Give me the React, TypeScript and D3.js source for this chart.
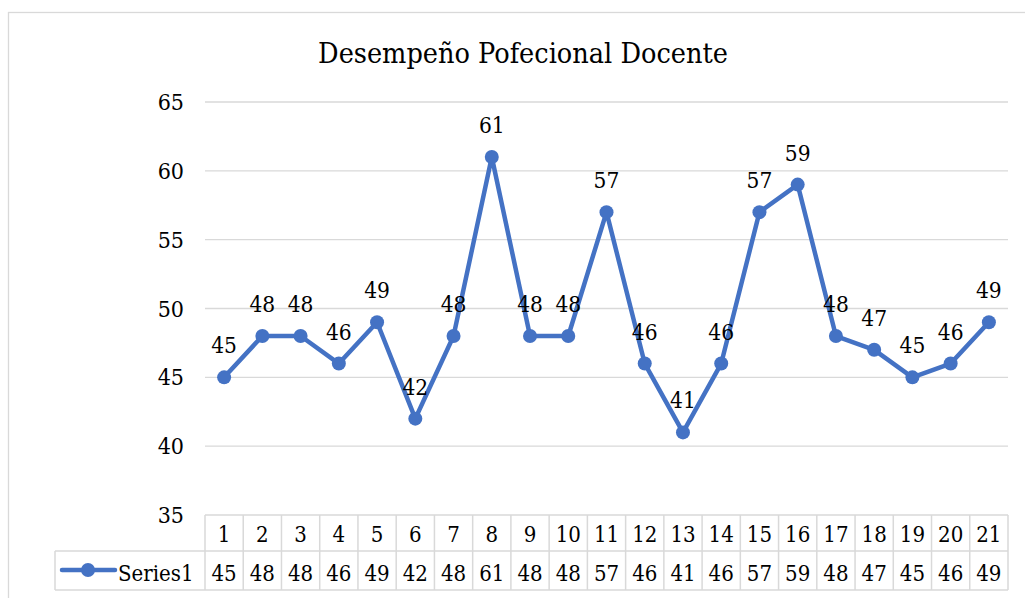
import React, { useEffect, useRef } from 'react';
import * as d3 from 'd3';

const title = 'Desempeño Pofecional Docente';
const seriesName = 'Series1';
const categories = ['1', '2', '3', '4', '5', '6', '7', '8', '9', '10', '11', '12', '13', '14', '15', '16', '17', '18', '19', '20', '21'];
const values = [45, 48, 48, 46, 49, 42, 48, 61, 48, 48, 57, 46, 41, 46, 57, 59, 48, 47, 45, 46, 49];
const yTicks = [35, 40, 45, 50, 55, 60, 65];

const FONT = "'DejaVu Serif Condensed', 'DejaVu Serif'";

const App = () => {
  const svgRef = useRef<SVGSVGElement>(null);

  useEffect(() => {
    const W = 1025;
    const H = 598;
    const blue = '#4472C4';
    const grid = '#d9d9d9';

    const svg = d3.select(svgRef.current)
      .attr('width', W)
      .attr('height', H);
    svg.selectAll('*').remove();

    // chart frame
    svg.append('rect')
      .attr('x', 8.5).attr('y', 12.5)
      .attr('width', W + 10).attr('height', H + 10)
      .attr('fill', '#fff')
      .attr('stroke', grid)
      .attr('stroke-width', 1.3);

    const x = d3.scaleBand().domain(categories).range([205, 1008]);
    const y = d3.scaleLinear().domain([35, 65]).range([515, 102]);
    const cx = (i: number) => (x(categories[i]) as number) + x.bandwidth() / 2;

    // title
    svg.append('text')
      .attr('x', 523).attr('y', 63)
      .attr('text-anchor', 'middle')
      .style('font-family', FONT)
      .attr('font-size', 28.5)
      .attr('fill', '#000')
      .text(title);

    // gridlines
    svg.selectAll('.grid')
      .data(yTicks.filter(d => d !== 35))
      .enter().append('line')
      .attr('x1', 205).attr('x2', 1008)
      .attr('y1', d => y(d)).attr('y2', d => y(d))
      .attr('stroke', grid).attr('stroke-width', 1.3);

    // y tick labels
    svg.selectAll('.ytick')
      .data(yTicks)
      .enter().append('text')
      .attr('x', 184)
      .attr('y', d => y(d) + 8)
      .attr('text-anchor', 'end')
      .style('font-family', FONT)
      .attr('font-size', 23)
      .text(d => d);

    // data table
    const rowTop = 515;
    const rowMid = 551;
    const rowBot = 590;
    const tbl = svg.append('g').attr('fill', 'none').attr('stroke', grid).attr('stroke-width', 1.5);
    tbl.append('line').attr('x1', 205).attr('x2', 1008).attr('y1', rowTop).attr('y2', rowTop);
    tbl.append('line').attr('x1', 55).attr('x2', 1008).attr('y1', rowMid).attr('y2', rowMid);
    tbl.append('line').attr('x1', 55).attr('x2', 1008).attr('y1', rowBot).attr('y2', rowBot);
    tbl.append('line').attr('x1', 55).attr('x2', 55).attr('y1', rowMid).attr('y2', rowBot);
    tbl.selectAll('.vcol')
      .data(categories)
      .enter().append('line')
      .attr('x1', d => x(d) as number).attr('x2', d => x(d) as number)
      .attr('y1', rowTop).attr('y2', rowBot);
    tbl.append('line').attr('x1', 1008).attr('x2', 1008).attr('y1', rowTop).attr('y2', rowBot);

    svg.selectAll('.cat')
      .data(categories)
      .enter().append('text')
      .attr('x', (d, i) => cx(i))
      .attr('y', 542)
      .attr('text-anchor', 'middle')
      .style('font-family', FONT)
      .attr('font-size', 22)
      .text(d => d);

    svg.selectAll('.cellval')
      .data(values)
      .enter().append('text')
      .attr('x', (d, i) => cx(i))
      .attr('y', 581)
      .attr('text-anchor', 'middle')
      .style('font-family', FONT)
      .attr('font-size', 22)
      .text(d => d);

    // legend key in table
    svg.append('line')
      .attr('x1', 62).attr('x2', 115).attr('y1', 570).attr('y2', 570)
      .attr('stroke', blue).attr('stroke-width', 4.5).attr('stroke-linecap', 'round');
    svg.append('circle').attr('cx', 88).attr('cy', 570).attr('r', 7).attr('fill', blue);
    svg.append('text')
      .attr('x', 118).attr('y', 581)
      .style('font-family', FONT)
      .attr('font-size', 22)
      .text(seriesName);

    // line
    const line = d3.line<number>()
      .x((d, i) => cx(i))
      .y(d => y(d));
    svg.append('path')
      .datum(values)
      .attr('fill', 'none')
      .attr('stroke', blue)
      .attr('stroke-width', 4.5)
      .attr('stroke-linejoin', 'round')
      .attr('d', line);

    svg.selectAll('.pt')
      .data(values)
      .enter().append('circle')
      .attr('cx', (d, i) => cx(i))
      .attr('cy', d => y(d))
      .attr('r', 7)
      .attr('fill', blue);

    // data labels
    svg.selectAll('.lbl')
      .data(values)
      .enter().append('text')
      .attr('x', (d, i) => cx(i))
      .attr('y', d => y(d) - 24)
      .attr('text-anchor', 'middle')
      .style('font-family', FONT)
      .attr('font-size', 22.5)
      .text(d => d);
  }, []);

  return (
    <svg ref={svgRef} style={{ position: 'absolute', left: 0, top: 0 }}></svg>
  );
};

export default App;
